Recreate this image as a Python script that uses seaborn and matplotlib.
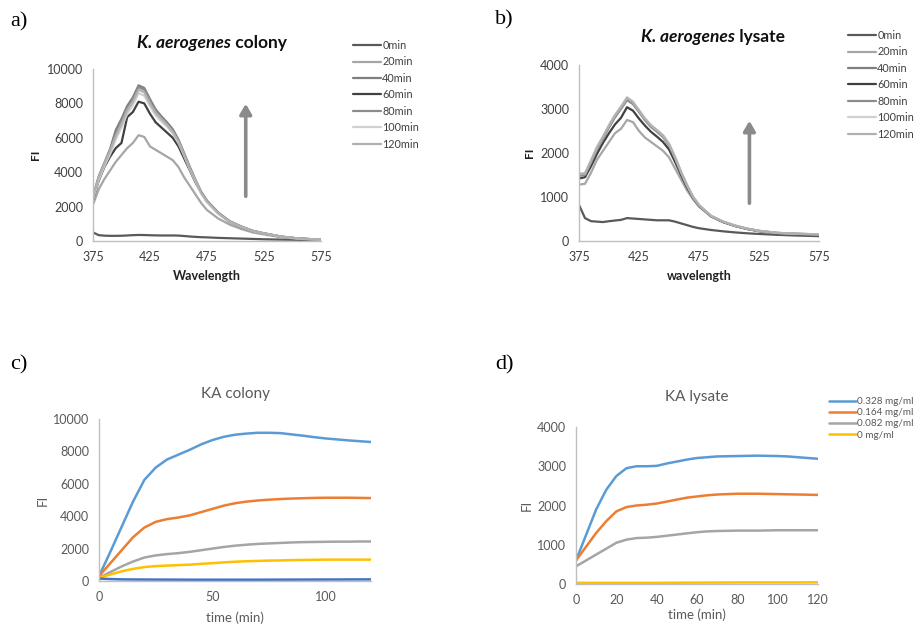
import numpy as np
import pandas as pd
import seaborn as sns
import matplotlib
matplotlib.use("Agg")
import matplotlib.pyplot as plt

# ---- spectra (panels a, b) ----
wl = [375, 380, 385, 390, 395, 400, 405, 410, 415, 420, 425, 430, 435, 440,
      445, 450, 455, 460, 465, 470, 475, 485, 495, 505, 515, 525, 540, 555, 575]
times = ["0min", "20min", "40min", "60min", "80min", "100min", "120min"]
grays = ["#595959", "#a6a6a6", "#7f7f7f", "#404040", "#8c8c8c", "#d0d0d0", "#b0b0b0"]

colony_spec = {
    "0min":   [500, 340, 310, 300, 300, 305, 320, 340, 350, 345, 335, 325, 320, 320,
               320, 315, 290, 260, 240, 220, 210, 180, 160, 140, 120, 100, 80, 65, 50],
    "20min":  [2100, 3000, 3600, 4100, 4600, 5000, 5400, 5700, 6150, 6050, 5500, 5300, 5100, 4900,
               4700, 4300, 3700, 3200, 2700, 2200, 1800, 1300, 950, 700, 500, 380, 220, 130, 70],
    "40min":  [2600, 3750, 4550, 5350, 6450, 7100, 7850, 8350, 9050, 8900, 8250, 7650, 7250, 6900,
               6500, 5900, 5100, 4300, 3550, 2850, 2350, 1650, 1150, 850, 600, 450, 260, 150, 80],
    "60min":  [2400, 3500, 4300, 4900, 5400, 5700, 7200, 7500, 8100, 8000, 7400, 6900, 6600, 6300,
               6000, 5500, 4800, 4100, 3400, 2800, 2300, 1600, 1100, 800, 580, 430, 250, 140, 75],
    "80min":  [2500, 3650, 4450, 5200, 6200, 6950, 7700, 8200, 8950, 8800, 8150, 7550, 7150, 6800,
               6400, 5800, 5050, 4250, 3500, 2800, 2300, 1620, 1130, 830, 590, 440, 255, 145, 78],
    "100min": [2450, 3550, 4350, 5050, 5900, 6600, 7400, 7900, 8600, 8450, 7850, 7300, 6950, 6650,
               6250, 5700, 4950, 4150, 3450, 2750, 2250, 1580, 1100, 810, 580, 430, 250, 140, 75],
    "120min": [2550, 3700, 4500, 5250, 6100, 6800, 7600, 8100, 8800, 8650, 8000, 7450, 7100, 6750,
               6350, 5800, 5000, 4200, 3500, 2800, 2300, 1620, 1120, 820, 590, 440, 255, 145, 78],
}

lysate_spec = {
    "0min":   [820, 520, 450, 440, 430, 450, 465, 480, 520, 510, 500, 490, 480, 470,
               470, 470, 440, 400, 360, 320, 290, 250, 220, 195, 175, 160, 140, 125, 110],
    "20min":  [1280, 1300, 1550, 1850, 2050, 2250, 2450, 2550, 2750, 2700, 2500, 2350, 2250, 2150,
               2050, 1900, 1650, 1400, 1150, 950, 780, 560, 430, 340, 270, 220, 180, 160, 150],
    "40min":  [1500, 1520, 1800, 2100, 2350, 2600, 2830, 3020, 3220, 3130, 2950, 2760, 2610, 2500,
               2380, 2190, 1900, 1560, 1260, 1000, 810, 570, 440, 350, 280, 230, 185, 165, 150],
    "60min":  [1420, 1450, 1700, 1980, 2230, 2450, 2650, 2800, 3040, 2960, 2780, 2620, 2480, 2370,
               2250, 2080, 1800, 1500, 1220, 980, 800, 560, 430, 340, 275, 225, 180, 160, 145],
    "80min":  [1480, 1500, 1780, 2080, 2320, 2580, 2810, 3000, 3200, 3110, 2930, 2740, 2590, 2480,
               2360, 2170, 1880, 1550, 1250, 995, 805, 565, 435, 345, 278, 228, 183, 163, 150],
    "100min": [1540, 1540, 1840, 2150, 2380, 2640, 2870, 3060, 3270, 3170, 2980, 2790, 2640, 2530,
               2410, 2220, 1920, 1580, 1280, 1010, 820, 575, 445, 350, 282, 232, 186, 166, 152],
    "120min": [1520, 1530, 1820, 2120, 2360, 2620, 2850, 3040, 3250, 3150, 2960, 2770, 2620, 2510,
               2390, 2200, 1900, 1570, 1270, 1005, 815, 570, 440, 348, 280, 230, 184, 164, 150],
}

# ---- kinetics (panels c, d), every 5 min ----
t = list(range(0, 121, 5))
conc = ["0.328 mg/ml", "0.164 mg/ml", "0.082 mg/ml", "0 mg/ml"]
conc_colors = ["#5b9bd5", "#ed7d31", "#a5a5a5", "#ffc000"]

colony_kin = {
    "0.328 mg/ml": [300, 1800, 3350, 4900, 6240, 7000, 7500, 7800, 8100, 8430, 8700, 8900, 9030,
                    9100, 9150, 9150, 9130, 9050, 8970, 8880, 8800, 8740, 8680, 8630, 8580],
    "0.164 mg/ml": [300, 1100, 1900, 2700, 3300, 3650, 3820, 3920, 4050, 4250, 4450, 4650, 4800,
                    4900, 4970, 5020, 5060, 5090, 5110, 5130, 5140, 5140, 5140, 5130, 5120],
    "0.082 mg/ml": [200, 550, 900, 1200, 1450, 1580, 1660, 1720, 1800, 1900, 2000, 2100, 2180,
                    2240, 2290, 2320, 2350, 2380, 2400, 2410, 2420, 2430, 2430, 2440, 2440],
    "0 mg/ml":     [200, 400, 600, 750, 860, 920, 950, 980, 1010, 1060, 1100, 1150, 1190,
                    1220, 1240, 1260, 1270, 1290, 1300, 1310, 1320, 1320, 1320, 1320, 1320],
}
colony_blank = [150, 120, 100, 95, 90, 88, 85, 83, 80, 80, 80, 80, 80,
                80, 80, 82, 84, 86, 88, 90, 92, 94, 96, 98, 100]

lysate_kin = {
    "0.328 mg/ml": [600, 1250, 1900, 2400, 2750, 2950, 3000, 3000, 3010, 3070, 3120, 3170, 3210,
                    3230, 3250, 3255, 3260, 3265, 3270, 3265, 3260, 3250, 3230, 3210, 3190],
    "0.164 mg/ml": [600, 950, 1300, 1600, 1850, 1960, 2000, 2020, 2050, 2100, 2150, 2200, 2230,
                    2260, 2280, 2290, 2300, 2300, 2300, 2295, 2290, 2285, 2280, 2275, 2270],
    "0.082 mg/ml": [450, 600, 750, 900, 1050, 1130, 1170, 1180, 1200, 1230, 1260, 1290, 1320,
                    1340, 1350, 1355, 1360, 1360, 1360, 1365, 1370, 1370, 1370, 1370, 1370],
    "0 mg/ml":     [30, 30, 30, 30, 30, 30, 30, 30, 30, 31, 32, 34, 35,
                    36, 37, 38, 40, 40, 40, 40, 40, 40, 40, 41, 42],
}

sns.set_style("white")
plt.rcParams["font.family"] = ["Lato", "DejaVu Sans"]

fig = plt.figure(figsize=(9.15, 6.24), dpi=100)

ax_a = fig.add_axes([0.1016, 0.6138, 0.2492, 0.2756])
ax_b = fig.add_axes([0.6328, 0.6138, 0.2623, 0.2821])
ax_c = fig.add_axes([0.1082, 0.0689, 0.2973, 0.2596])
ax_d = fig.add_axes([0.6295, 0.0641, 0.2645, 0.2516])

axis_col = "#bfbfbf"
text_col = "#595959"


def style_axis(ax, tcol, fs):
    for s in ["top", "right"]:
        ax.spines[s].set_visible(False)
    for s in ["left", "bottom"]:
        ax.spines[s].set_color(axis_col)
        ax.spines[s].set_linewidth(1.0)
    ax.tick_params(axis="both", direction="out", length=4, width=1.0,
                   color=axis_col, labelcolor=tcol, labelsize=fs, pad=3)


def spectra(ax, spec, ymax, step, title_rest, title_xy, xlabel, legend_pos, arrow):
    for name, col in zip(times, grays):
        df = pd.DataFrame({"wl": wl, "FI": spec[name]})
        sns.lineplot(data=df, x="wl", y="FI", color=col, lw=1.6, ax=ax, label=name)
    ax.set_xlim(375, 575)
    ax.set_ylim(0, ymax)
    ax.set_xticks([375, 425, 475, 525, 575])
    ax.set_yticks(np.arange(0, ymax + 1, step))
    style_axis(ax, "#404040", 9)
    ax.set_xlabel(xlabel, fontsize=9, fontweight="bold", color="#202020", labelpad=5)
    ax.set_ylabel("FI", fontsize=8.5, fontweight="bold", color="#202020", labelpad=4)
    # title: italic genus part + normal rest
    tx, ty = title_xy[0] / 915, 1 - title_xy[1] / 624
    fig.text(tx, ty, "K. aerogenes", fontsize=12.5, fontweight="bold", style="italic",
             ha="right", va="center", color="#101010")
    fig.text(tx, ty, " " + title_rest, fontsize=12.5, fontweight="bold",
             ha="left", va="center", color="#101010")
    ax.annotate("", xy=(arrow[0], arrow[2]), xytext=(arrow[0], arrow[1]),
                arrowprops=dict(arrowstyle="-|>,head_length=0.6,head_width=0.35",
                                color="#8a8a8a", lw=2.6))
    ax.legend(loc="upper left", bbox_to_anchor=legend_pos, bbox_transform=fig.transFigure,
              frameon=False, fontsize=7.8, handlelength=2.6, handletextpad=0.1,
              labelspacing=0.5, borderpad=0, borderaxespad=0, labelcolor="#404040")


spectra(ax_a, colony_spec, 10000, 2000, "colony", (231, 43), "Wavelength",
        (353 / 915, 1 - 40 / 624), (509, 2440, 8140))
spectra(ax_b, lysate_spec, 4000, 1000, "lysate", (735, 37), "wavelength",
        (848 / 915, 1 - 30 / 624), (517, 795, 2795))


def kinetics(ax, kin, ymax, step, xticks, blank=None):
    for name, col in zip(conc, conc_colors):
        df = pd.DataFrame({"t": t, "FI": kin[name]})
        sns.lineplot(data=df, x="t", y="FI", color=col, lw=1.8, ax=ax, label=name)
    if blank is not None:
        df = pd.DataFrame({"t": t, "FI": blank})
        sns.lineplot(data=df, x="t", y="FI", color="#4472c4", lw=1.8, ax=ax)
    ax.set_xlim(0, 120)
    ax.set_ylim(0, ymax)
    ax.set_xticks(xticks)
    ax.set_yticks(np.arange(0, ymax + 1, step))
    style_axis(ax, text_col, 9)
    ax.set_xlabel("time (min)", fontsize=9.5, color=text_col, labelpad=6)
    ax.set_ylabel("FI", fontsize=9.5, color=text_col, labelpad=3)


kinetics(ax_c, colony_kin, 10000, 2000, [0, 50, 100], blank=colony_blank)
ax_c.get_legend().remove()
ax_c.set_title("KA colony", fontsize=11, color=text_col, pad=15)
kinetics(ax_d, lysate_kin, 4000, 1000, [0, 20, 40, 60, 80, 100, 120])
ax_d.set_xlabel("time (min)", fontsize=9.5, color=text_col, labelpad=2)
ax_d.set_title("KA lysate", fontsize=11, color=text_col, pad=19)
ax_d.legend(loc="upper left", bbox_to_anchor=(829 / 915, 1 - 397 / 624),
            bbox_transform=fig.transFigure, frameon=False, fontsize=7.2,
            handlelength=2.7, handletextpad=0.1, labelspacing=0.22, borderpad=0,
            borderaxespad=0, labelcolor=text_col)

# panel letters
for lbl, x, y in [("a)", 10, 22), ("b)", 495, 20), ("c)", 10, 365), ("d)", 495, 365)]:
    fig.text(x / 915, 1 - y / 624, lbl, fontsize=16, family="Liberation Serif",
             va="center", ha="left", color="#000000")

plt.savefig("out.png", dpi=100)
